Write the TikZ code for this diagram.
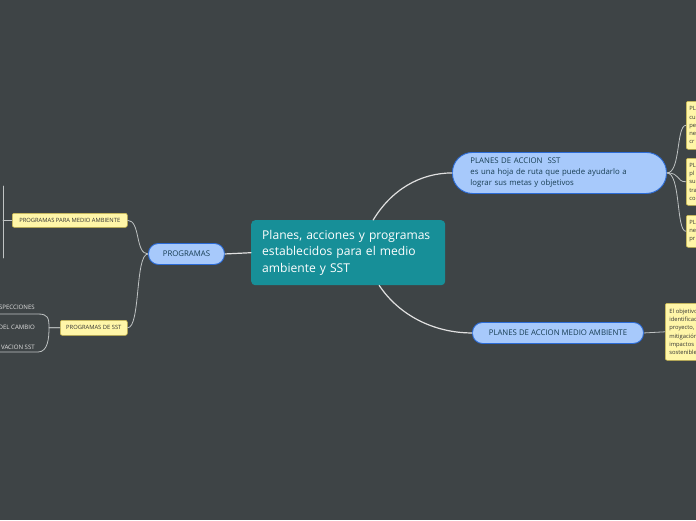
\documentclass[tikz,border=0pt]{standalone}
\usepackage{fontspec}
\setmainfont{Open Sans}
\usetikzlibrary{positioning}

\definecolor{canvasgrey}{HTML}{3E4446}
\definecolor{rootteal}{HTML}{178F98}
\definecolor{branchblue}{HTML}{A7C9FB}
\definecolor{branchedge}{HTML}{2B6BD6}
\definecolor{branchtext}{HTML}{173D52}
\definecolor{notefill}{HTML}{FFF6A8}
\definecolor{noteedge}{HTML}{CDBA4E}
\definecolor{linkgrey}{HTML}{BFC3C3}

\begin{document}
\begin{tikzpicture}[
  x=1pt, y=-1pt,
  line join=round,
  line cap=round,
  centertopic/.style={fill=rootteal,rounded corners=4pt,text=white,anchor=north west,align=left,
    inner xsep=11pt,inner ysep=0pt,text width=172pt,minimum height=65pt,font=\fontsize{12.1}{16.5}\selectfont},
  mainbranch/.style={fill=branchblue,draw=branchedge,line width=0.9pt,text=branchtext,anchor=north west,
    inner sep=0pt,font=\fontsize{7.8}{11}\selectfont},
  subtopic/.style={fill=notefill,draw=noteedge,line width=0.6pt,rounded corners=2pt,text=black!80,
    anchor=north west,inner sep=0pt,font=\fontsize{5.8}{8.3}\selectfont},
  leaftext/.style={text=black!12,anchor=east,inner sep=0pt,font=\fontsize{6.1}{7}\selectfont},
  rootlink/.style={draw=white!88!black,line width=1.2pt},
  link/.style={draw=linkgrey,line width=0.8pt}
]
  % Canvas, cut to the visible window of the map.
  \useasboundingbox (0,0) rectangle (696,520);
  \clip (0,0) rectangle (696,520);
  \fill[canvasgrey] (0,0) rectangle (696,520);

  % Central topic.
  \node[centertopic] (root) at (251,220)
    {Planes, acciones y programas\\establecidos para el medio\\ambiente y SST};

  % First-level branches.
  \node[mainbranch,rounded corners=10pt,minimum width=76pt,minimum height=21pt] (programas) at (148,243) {PROGRAMAS};
  \node[mainbranch,rounded corners=20pt,minimum width=214pt,minimum height=41pt,
    text width=178pt,inner xsep=18pt,align=left] (plansst) at (452,152)
    {PLANES DE ACCION\ \ SST\\es una hoja de ruta que puede ayudarlo a\\lograr sus metas y objetivos};
  \node[mainbranch,rounded corners=10pt,minimum width=171pt,minimum height=21pt] (planma) at (472,322)
    {PLANES DE ACCION MEDIO AMBIENTE};

  % Second-level topics.
  \node[subtopic,minimum width=115pt,minimum height=14pt] (ppma) at (12,213) {PROGRAMAS PARA MEDIO AMBIENTE};
  \node[subtopic,minimum width=67pt,minimum height=15pt] (pdsst) at (60,320) {PROGRAMAS DE SST};

  \node[subtopic,text width=40pt,inner xsep=3pt,minimum height=48pt,align=left] (sstnoteA) at (686,101)
    {PL\\cu\\pe\\ne\\cr};
  \node[subtopic,text width=40pt,inner xsep=3pt,minimum height=47pt,align=left] (sstnoteB) at (686,158)
    {PL\\pl\\su\\tra\\co};
  \node[subtopic,text width=40pt,inner xsep=3pt,minimum height=32pt,align=left] (sstnoteC) at (686,215)
    {PL\\ne\\pr};
  \node[subtopic,text width=50pt,inner xsep=4pt,minimum height=57pt,align=left] (manote) at (665,303)
    {El objetivo\\identificación\\proyecto,\\mitigación\\impactos\\sostenible};

  % Leaves of PROGRAMAS DE SST, cut by the left edge.
  \node[leaftext] (insp) at (35,307) {SPECCIONES};
  \node[leaftext] (cambio) at (35,327.5) {DEL CAMBIO};
  \node[leaftext] (obs) at (35,347) {VACION SST};
  \coordinate (inspline) at (0,314);
  \coordinate (obsline) at (0,352);

  % Connectors from the central topic.
  \draw[rootlink] (root.west) -- (programas.east);
  \draw[rootlink] ([xshift=25pt]root.north) .. controls +(18,-30) and +(-32,0) .. (plansst.west);
  \draw[rootlink] ([xshift=31pt]root.south) .. controls +(20,30) and +(-38,0) .. (planma.west);

  % Branch connectors.
  \draw[link] (programas.west) .. controls +(-13,0) and +(13,0) .. (ppma.east);
  \draw[link] (programas.west) .. controls +(-13,0) and +(13,0) .. (pdsst.east);
  \foreach \n in {sstnoteA,sstnoteB,sstnoteC} {
    \draw[link] (plansst.east) .. controls +(14,0) and +(-10,0) .. (\n.west);
  }
  \draw[link] (planma.east) -- (manote.west);

  % Left brackets, whose children lie off the window.
  \draw[link] (ppma.west) -- ++(-9,0);
  \draw[link] (3,186) -- (3,258);
  \draw[link] (pdsst.west) -- ++(-11,0) .. controls +(0,-10) and +(10,0) .. ([xshift=38pt]inspline) -- (inspline);
  \draw[link] (pdsst.west) -- ++(-11,0) .. controls +(0,10) and +(10,0) .. ([xshift=38pt]obsline) -- (obsline);
\end{tikzpicture}
\end{document}
